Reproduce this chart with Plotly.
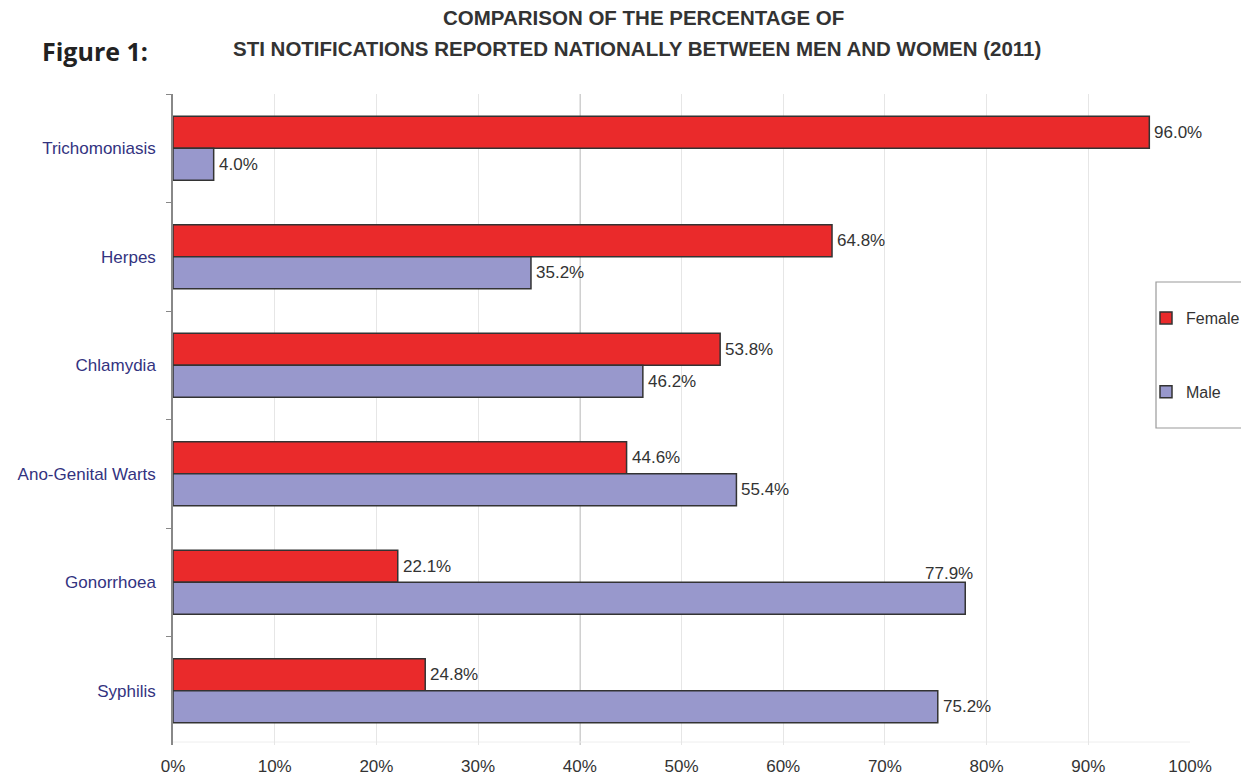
import plotly.graph_objects as go

categories = ["Trichomoniasis", "Herpes", "Chlamydia", "Ano-Genital Warts", "Gonorrhoea", "Syphilis"]
female = [96.0, 64.8, 53.8, 44.6, 22.1, 24.8]
male = [4.0, 35.2, 46.2, 55.4, 77.9, 75.2]
x_ticks = [0, 10, 20, 30, 40, 50, 60, 70, 80, 90, 100]
x_tick_labels = [f"{v}%" for v in x_ticks]

W, H = 1241, 778
L, R, T, B = 173, 51, 94, 33
PW, PH = W - L - R, H - T - B


def px(xp):
    return (xp - L) / PW


def py(yp):
    return (H - B - yp) / PH


RED = "#ea2a2b"
LAV = "#9898cc"
EDGE = "#333333"
FONT = "Liberation Sans, Arial, sans-serif"

fig = go.Figure()
fig.add_trace(go.Bar(
    y=categories, x=female, orientation="h", name="Female",
    marker=dict(color=RED, line=dict(color=EDGE, width=1.5)),
    legendgroup="f", hoverinfo="x+y",
))
fig.add_trace(go.Bar(
    y=categories, x=male, orientation="h", name="Male",
    marker=dict(color=LAV, line=dict(color=EDGE, width=1.5)),
    legendgroup="m", hoverinfo="x+y",
))

label_font = dict(family=FONT, size=17, color="#333333")
annotations = []
for c, fv, mv in zip(categories, female, male):
    annotations.append(dict(x=fv, y=c, xref="x", yref="y", text=f"{fv:.1f}%",
                            showarrow=False, xanchor="left", yanchor="middle",
                            xshift=3, yshift=16, font=label_font))
    if c == "Gonorrhoea":
        annotations.append(dict(x=mv, y=c, xref="x", yref="y", text=f"{mv:.1f}%",
                                showarrow=False, xanchor="right", yanchor="middle",
                                xshift=10, yshift=9, font=label_font))
    else:
        annotations.append(dict(x=mv, y=c, xref="x", yref="y", text=f"{mv:.1f}%",
                                showarrow=False, xanchor="left", yanchor="middle",
                                xshift=3, yshift=-16, font=label_font))

title_font = dict(family=FONT, size=20.5, color="#333333")
annotations += [
    dict(x=px(643), y=py(18), xref="paper", yref="paper", showarrow=False,
         text="<b>COMPARISON OF THE PERCENTAGE OF</b>", font=title_font,
         xanchor="center", yanchor="middle"),
    dict(x=px(637), y=py(49), xref="paper", yref="paper", showarrow=False,
         text="<b>STI NOTIFICATIONS REPORTED NATIONALLY BETWEEN MEN AND WOMEN (2011)</b>",
         font=title_font, xanchor="center", yanchor="middle"),
    dict(x=px(40), y=py(51), xref="paper", yref="paper", showarrow=False,
         text="<b>Figure 1:</b>", xanchor="left", yanchor="middle",
         font=dict(family="Open Sans, sans-serif", size=25, color="#222222")),
]

shapes = [
    dict(type="line", xref="x", yref="paper", x0=40, x1=40, y0=0, y1=1,
         line=dict(color="#8a8a8a", width=1.2), layer="below"),
    dict(type="line", xref="x", yref="paper", x0=0, x1=100, y0=py(742), y1=py(742),
         line=dict(color="#eeeeee", width=1), layer="below"),
    dict(type="rect", xref="paper", yref="paper", x0=px(1156), x1=px(1300),
         y0=py(428), y1=py(282), line=dict(color="#9a9a9a", width=1.2),
         fillcolor="white", layer="above"),
]

fig.update_layout(
    width=W, height=H,
    margin=dict(l=L, r=R, t=T, b=B, autoexpand=False),
    paper_bgcolor="white", plot_bgcolor="white",
    barmode="group", bargap=0.41, bargroupgap=0,
    showlegend=True,
    legend=dict(x=px(1146), y=py(301), xanchor="left", yanchor="top",
                bgcolor="rgba(0,0,0,0)", borderwidth=0,
                font=dict(family=FONT, size=16, color="#333333"),
                tracegroupgap=50, itemwidth=30),
    annotations=annotations,
    shapes=shapes,
    xaxis=dict(range=[0, 100], tickvals=x_ticks, ticktext=x_tick_labels,
               showgrid=True, gridcolor="#e6e6e6", gridwidth=1, zeroline=False,
               showline=False, ticks="", ticklabelstandoff=9, automargin=False,
               tickfont=dict(family=FONT, size=17, color="#333333"),
               fixedrange=True),
    yaxis=dict(autorange="reversed", type="category", tickson="boundaries",
               ticks="outside", ticklen=5, tickcolor="#888888",
               showline=True, linecolor="#888888", linewidth=1.5,
               showgrid=False, ticklabelstandoff=12, automargin=False,
               tickfont=dict(family=FONT, size=17, color="#33337f"),
               fixedrange=True),
)

fig.write_html("out.html", config={"displayModeBar": False},
               post_script="document.body.style.margin='0';document.body.style.overflow='hidden';")
